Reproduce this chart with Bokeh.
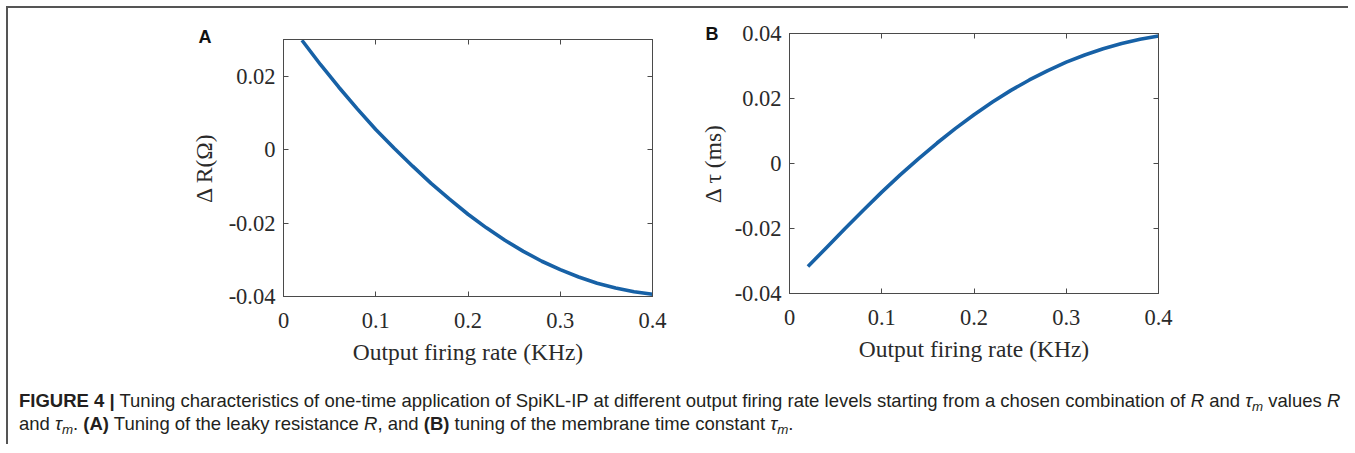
from bokeh.plotting import figure
from bokeh.models import Range1d, FixedTicker, CustomJSTickFormatter, LinearAxis, Title, Div
from bokeh.layouts import column, row
from bokeh.embed import file_html
from bokeh.resources import INLINE

# ---------------- data ----------------
rate_khz = [0.02, 0.04, 0.06, 0.08, 0.10, 0.12, 0.14, 0.16, 0.18, 0.20,
            0.22, 0.24, 0.26, 0.28, 0.30, 0.32, 0.34, 0.36, 0.38, 0.40]
delta_R = [0.0298, 0.0232, 0.0170, 0.0111, 0.0055, 0.0004, -0.0045, -0.0092,
           -0.0135, -0.0176, -0.0213, -0.0247, -0.0277, -0.0304, -0.0327,
           -0.0347, -0.0364, -0.0377, -0.0387, -0.0394]
delta_tau = [-0.0317, -0.0259, -0.0201, -0.0144, -0.0088, -0.0035, 0.0015,
             0.0063, 0.0108, 0.0150, 0.0189, 0.0225, 0.0257, 0.0286, 0.0312,
             0.0334, 0.0353, 0.0369, 0.0382, 0.0392]

x_ticks = [0, 0.1, 0.2, 0.3, 0.4]
yA_ticks = [-0.04, -0.02, 0, 0.02]
yB_ticks = [-0.04, -0.02, 0, 0.02, 0.04]
x_label = "Output firing rate (KHz)"
yA_label = "\u0394 R(\u03a9)"
yB_label = "\u0394 \u03c4 (ms)"

LINE_COLOR = "#1761a6"
AX_COLOR = "#4a4a4a"
TXT_COLOR = "#2a2a2a"
SERIF = "Liberation Serif"

fmt_x = CustomJSTickFormatter(code="return Math.abs(tick) < 1e-9 ? '0' : tick.toFixed(1);")
fmt_y = CustomJSTickFormatter(code="return Math.abs(tick) < 1e-9 ? '0' : tick.toFixed(2);")


def make_panel(yvals, yticks, yrange, ylabel, letter, letter_offset, letter_standoff,
               ylabel_standoff, borders, size):
    w, h = size
    bl, br, bt, bb = borders
    p = figure(width=w, height=h, output_backend="svg", toolbar_location=None,
               x_range=Range1d(0, 0.4), y_range=Range1d(*yrange),
               min_border_left=bl, min_border_right=br,
               min_border_top=bt, min_border_bottom=bb,
               background_fill_color="white", border_fill_color="white")
    p.title = Title(text=letter, align="left", offset=letter_offset, standoff=letter_standoff,
                    text_font="Liberation Sans", text_font_style="bold",
                    text_font_size="18px", text_color="#111111")
    p.xgrid.visible = False
    p.ygrid.visible = False
    p.outline_line_color = AX_COLOR
    p.outline_line_width = 1

    for ax in p.xaxis:
        ax.ticker = FixedTicker(ticks=x_ticks)
        ax.formatter = fmt_x
        ax.axis_label = x_label
        ax.major_label_standoff = 16
        ax.axis_label_standoff = 8
    for ax in p.yaxis:
        ax.ticker = FixedTicker(ticks=yticks)
        ax.formatter = fmt_y
        ax.axis_label = ylabel
        ax.major_label_standoff = 8
        ax.axis_label_standoff = ylabel_standoff
    for ax in list(p.xaxis) + list(p.yaxis):
        ax.major_tick_in = 5
        ax.major_tick_out = 0
        ax.minor_tick_line_color = None
        ax.axis_line_color = AX_COLOR
        ax.major_tick_line_color = AX_COLOR
        ax.major_label_text_font = SERIF
        ax.major_label_text_font_size = "22.5px"
        ax.major_label_text_color = TXT_COLOR
        ax.axis_label_text_font = SERIF
        ax.axis_label_text_font_size = "23.5px"
        ax.axis_label_text_font_style = "normal"
        ax.axis_label_text_color = TXT_COLOR

    blank = CustomJSTickFormatter(code="return '';")
    for side, ticks in (("above", x_ticks), ("right", yticks)):
        extra = LinearAxis(ticker=FixedTicker(ticks=ticks), formatter=blank,
                           major_label_text_font_size="1px",
                           major_tick_in=5, major_tick_out=0, minor_tick_line_color=None,
                           axis_line_color=AX_COLOR, major_tick_line_color=AX_COLOR,
                           major_label_standoff=0)
        p.add_layout(extra, side)

    p.line(rate_khz, yvals, line_color=LINE_COLOR, line_width=3.6, line_cap="butt")
    return p


pA = make_panel(delta_R, yA_ticks, (-0.04, 0.03), yA_label, "A", -85, -15.5, 9,
                (275, 36, 31, 82), (680, 370))
pB = make_panel(delta_tau, yB_ticks, (-0.04, 0.04), yB_label, "B", -84, -21, 6,
                (101, 180, 25, 85), (650, 370))

TAU_M = ("<i>\u03c4<span style='font-size:0.72em; position:relative; top:0.3em;'>m</span></i>")
caption_html = (
    "<b>FIGURE 4 |</b> Tuning characteristics of one-time application of SpiKL-IP at "
    "different output firing rate levels starting from a chosen combination of "
    "<i>R</i> and " + TAU_M + " values <i>R</i><br>"
    "and " + TAU_M + ". <b>(A)</b> Tuning of the leaky resistance <i>R</i>, "
    "and <b>(B)</b> tuning of the membrane time constant " + TAU_M + "."
)
caption = Div(text=caption_html, width=1330, height=56,
              styles={"padding-left": "6px", "padding-top": "7px",
                      "font-family": "'Liberation Sans', Arial, sans-serif",
                      "font-size": "18.5px", "line-height": "21px",
                      "color": "#231f20", "white-space": "nowrap"})

layout = column(row(column(pA), column(pB)), caption,
                styles={"border-top": "2px solid #555555",
                        "border-left": "2px solid #555555",
                        "margin-left": "6px", "margin-top": "6px"})

open("out.html", "w").write(file_html(layout, INLINE))
